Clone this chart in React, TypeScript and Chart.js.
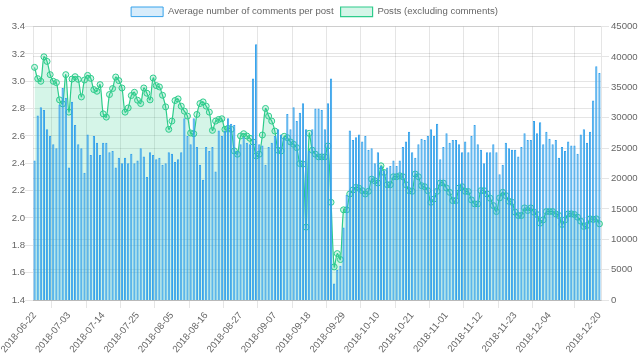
import React, { useEffect, useRef } from 'react';
import { Chart, registerables } from 'chart.js';

Chart.register(...registerables);

const startDate = '2018-06-22';
const dayCount = 182;

const avgComments = [
  2.42, 2.75, 2.81, 2.79, 2.65, 2.60, 2.54, 2.51, 2.83, 2.95,
  2.88, 2.37, 2.85, 2.68, 2.54, 2.51, 2.33, 2.61, 2.46, 2.60,
  2.55, 2.46, 2.55, 2.55, 2.48, 2.49, 2.37, 2.44, 2.40, 2.44,
  2.40, 2.47, 2.40, 2.42, 2.51, 2.45, 2.30, 2.48, 2.46, 2.43,
  2.44, 2.39, 2.40, 2.48, 2.47, 2.41, 2.43, 2.48, 2.73, 2.60,
  2.54, 2.73, 2.52, 2.39, 2.28, 2.52, 2.49, 2.52, 2.34, 2.64,
  2.60, 2.64, 2.73, 2.69, 2.68, 2.49, 2.54, 2.59, 2.55, 2.54,
  3.02, 3.27, 2.54, 2.53, 2.39, 2.52, 2.55, 2.60, 2.65, 2.61,
  2.59, 2.76, 2.65, 2.81, 2.71, 2.77, 2.84, 2.65, 2.49, 2.65,
  2.80, 2.80, 2.79, 2.65, 2.84, 3.02, 1.52, 1.62, 1.65, 1.93,
  2.17, 2.64, 2.57, 2.59, 2.61, 2.56, 2.60, 2.50, 2.51, 2.40,
  2.48, 2.38, 2.35, 2.37, 2.38, 2.42, 2.38, 2.42, 2.52, 2.56,
  2.63, 2.48, 2.44, 2.54, 2.58, 2.57, 2.60, 2.65, 2.60, 2.69,
  2.43, 2.52, 2.62, 2.55, 2.57, 2.57, 2.54, 2.48, 2.56, 2.48,
  2.60, 2.68, 2.54, 2.50, 2.40, 2.48, 2.48, 2.54, 2.48, 2.32,
  2.39, 2.55, 2.51, 2.50, 2.50, 2.45, 2.52, 2.62, 2.57, 2.57,
  2.71, 2.62, 2.70, 2.54, 2.63, 2.58, 2.54, 2.57, 2.44, 2.52,
  2.49, 2.56, 2.53, 2.53, 2.47, 2.61, 2.65, 2.55, 2.63, 2.86,
  3.11, 3.06,
];

const posts = [
  38290, 36430, 36000, 40030, 39270, 37090, 36000, 35780, 32940, 32280,
  37090, 30920, 36370, 36760, 36320, 33420, 36210, 36970, 36480, 34630,
  34360, 35450, 30640, 30100, 33820, 34800, 36700, 36110, 34900, 30920,
  31620, 33650, 34190, 32880, 32340, 34900, 34030, 32940, 36540, 35290,
  35070, 33700, 31790, 28090, 29450, 32830, 33100, 31900, 31080, 30270,
  27490, 27370, 30540, 32340, 32610, 31900, 30920, 27920, 29450, 29720,
  29830, 28090, 28250, 28090, 24540, 24000, 27000, 27370, 27000, 26620,
  26010, 23720, 24000, 27160, 31530, 30270, 29450, 27810, 24650, 24540,
  26940, 26720, 26010, 25630, 25080, 22460, 22360, 11990, 27430, 24650,
  24000, 23560, 23560, 23560, 25360, 16080, 5450, 7640, 6660, 14840,
  14840, 17450, 18110, 18540, 18380, 18000, 17450, 17890, 19900, 19630,
  19250, 22090, 20990, 18980, 18980, 20290, 20290, 20450, 20290, 18980,
  18000, 17890, 20730, 20290, 18820, 18650, 18000, 16080, 16630, 17890,
  19250, 19250, 18430, 17720, 16360, 16360, 18430, 18650, 17890, 17850,
  16470, 15820, 15820, 18000, 18000, 17450, 16740, 15540, 14560, 16800,
  17720, 17180, 16250, 16080, 14450, 13910, 13910, 15160, 14730, 15160,
  14450, 14070, 12650, 13200, 14560, 14560, 14560, 14180, 13910, 12430,
  13200, 14180, 14180, 14070, 13630, 12980, 12110, 12270, 13360, 13250,
  13360, 12540,
];

const seriesNames = ['Average number of comments per post', 'Posts (excluding comments)'];
const tickEvery = 11;
const hiddenTickIndex = 176;

function buildDates(start: string, n: number): string[] {
  const out: string[] = [];
  const d = new Date(start + 'T00:00:00Z');
  for (let i = 0; i < n; i++) {
    out.push(d.toISOString().slice(0, 10));
    d.setUTCDate(d.getUTCDate() + 1);
  }
  return out;
}

const labels = buildDates(startDate, dayCount);

const shiftLegend = {
  id: 'shiftLegend',
  afterLayout(chart: any) {
    const lg = chart.legend;
    if (lg) {
      lg.left -= 5;
      lg.right -= 5;
    }
  },
};

export default function App() {
  const ref = useRef<HTMLCanvasElement>(null);
  useEffect(() => {
    document.body.style.margin = '0';
    const FONT = "'Helvetica Neue', 'Helvetica', 'Arial', sans-serif";
    Chart.defaults.font.family = FONT;
    Chart.defaults.font.size = 9.6;
    Chart.defaults.color = '#666';
    const grid = 'rgba(0,0,0,0.1)';
    const chart = new Chart(ref.current!, {
      type: 'bar',
      plugins: [shiftLegend],
      data: {
        labels,
        datasets: [
          {
            type: 'bar',
            label: seriesNames[0],
            data: avgComments,
            yAxisID: 'y',
            backgroundColor: 'rgba(54,162,235,0.2)',
            borderColor: 'rgb(54,162,235)',
            borderWidth: 1,
          } as any,
          {
            type: 'line',
            label: seriesNames[1],
            data: posts,
            yAxisID: 'y1',
            borderColor: 'rgb(46,204,140)',
            backgroundColor: 'rgba(46,204,140,0.2)',
            borderWidth: 1.2,
            pointRadius: 3,
            pointBorderWidth: 1,
            pointBackgroundColor: 'rgba(46,204,140,0.2)',
            pointBorderColor: 'rgb(46,204,140)',
            tension: 0.3,
            fill: 'origin',
          } as any,
        ],
      },
      options: {
        responsive: true,
        maintainAspectRatio: false,
        animation: false,
        layout: { padding: { left: 0, right: 1, top: 0, bottom: 4 } },
        plugins: {
          legend: {
            position: 'top',
            labels: {
              boxWidth: 32,
              boxHeight: 9.6,
              padding: 7,
              color: '#666',
            },
          },
          tooltip: { enabled: false },
        },
        scales: {
          x: {
            type: 'category',
            offset: true,
            grid: { color: grid, offset: true, tickLength: 8 },
            ticks: {
              autoSkip: false,
              minRotation: 50,
              maxRotation: 50,
              padding: 2,
              callback: (_v: any, i: number) =>
                (i % tickEvery === 0 && i !== hiddenTickIndex) || i === dayCount - 1 ? labels[i] : null,
            },
          },
          y: {
            position: 'left',
            min: 1.4,
            max: 3.4,
            afterFit: (s: any) => { s.width = 33; },
            grid: { color: grid, tickLength: 8 },
            ticks: { stepSize: 0.2, padding: 0, callback: (v: any) => Number(v).toFixed(1) },
          },
          y1: {
            position: 'right',
            min: 0,
            max: 45000,
            afterFit: (s: any) => { s.width = 38; },
            grid: { color: grid, tickLength: 8 },
            ticks: { stepSize: 5000, padding: 2, callback: (v: any) => String(v) },
          },
        },
      },
    });
    return () => chart.destroy();
  }, []);
  return (
    <div style={{ width: 640, height: 361, position: 'relative' }}>
      <canvas ref={ref} />
    </div>
  );
}
